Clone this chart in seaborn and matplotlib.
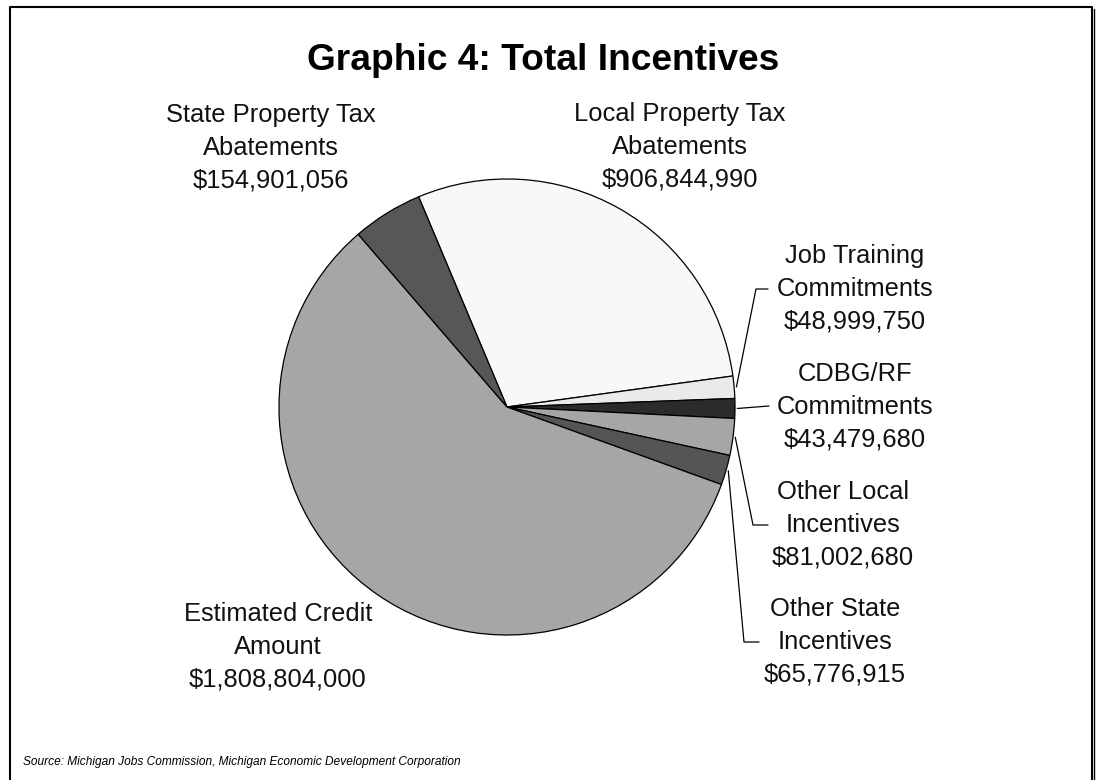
import matplotlib
matplotlib.use("Agg")
import matplotlib.pyplot as plt
import seaborn as sns
import numpy as np

# ---- data ----
categories = ["Local Property Tax\nAbatements", "Job Training\nCommitments", "CDBG/RF\nCommitments",
              "Other Local\nIncentives", "Other State\nIncentives", "Estimated Credit\nAmount",
              "State Property Tax\nAbatements"]
values = [906844990, 48999750, 43479680, 81002680, 65776915, 1808804000, 154901056]
colors = ["#F8F8F8", "#EAEAEA", "#2B2B2B", "#A6A6A6", "#555555", "#A6A6A6", "#575757"]
title = "Graphic 4: Total Incentives"
source = "Source: Michigan Jobs Commission, Michigan Economic Development Corporation"

# ---- layout (pixel coordinates, y measured from top) ----
W, H = 1097, 780
center = (507, 407)
R = 228
label_pos = [(680, 147), (855, 289), (855, 407), (843, 525), (835, 642), (278, 647), (271, 148)]
# leader lines: elbow points (None = no leader)
leaders = [None, [(756, 289), (768, 289)], [(769, 406)], [(753, 525), (768, 525)],
           [(744, 642), (759, 642)], None, None]

sns.set_theme(style="white")
plt.rcParams['font.family'] = ['Liberation Sans', 'DejaVu Sans']

fig = plt.figure(figsize=(W / 100, H / 100), dpi=100)
ax = fig.add_axes([0, 0, 1, 1])

def fy(y):
    return H - y

wedges, _ = ax.pie(values, colors=colors, startangle=112.8, counterclock=False,
                   center=(center[0], fy(center[1])), radius=R, frame=True,
                   wedgeprops=dict(edgecolor="black", linewidth=0.9))
ax.set_xlim(0, W)
ax.set_ylim(0, H)
ax.set_aspect('equal')
ax.axis('off')

for i, (cat, val) in enumerate(zip(categories, values)):
    x, y = label_pos[i]
    ax.text(x, fy(y), f"{cat}\n${val:,}", ha="center", va="center", fontsize=18.4,
            linespacing=1.47, color="#111111")
    if leaders[i] is not None:
        w = wedges[i]
        mid = np.deg2rad((w.theta1 + w.theta2) / 2)
        sx = center[0] + R * 1.01 * np.cos(mid)
        sy = fy(center[1]) + R * 1.01 * np.sin(mid)
        xs = [sx] + [p[0] for p in leaders[i]]
        ys = [sy] + [fy(p[1]) for p in leaders[i]]
        ax.plot(xs, ys, color="black", lw=0.9)

ax.text(543, fy(60), title, ha="center", va="center", fontsize=26.7, fontweight="bold", color="black")
ax.text(23, fy(762), source, ha="left", va="center", fontsize=8.6, style="italic", color="black")

# frame
ax.plot([10, 10, 1092, 1092], [-5, fy(7), fy(7), -5], color="black", lw=1.5, clip_on=False)
ax.plot([1094, 1094], [-5, fy(9)], color="black", lw=1.0)

fig.savefig("out.png", dpi=100)
